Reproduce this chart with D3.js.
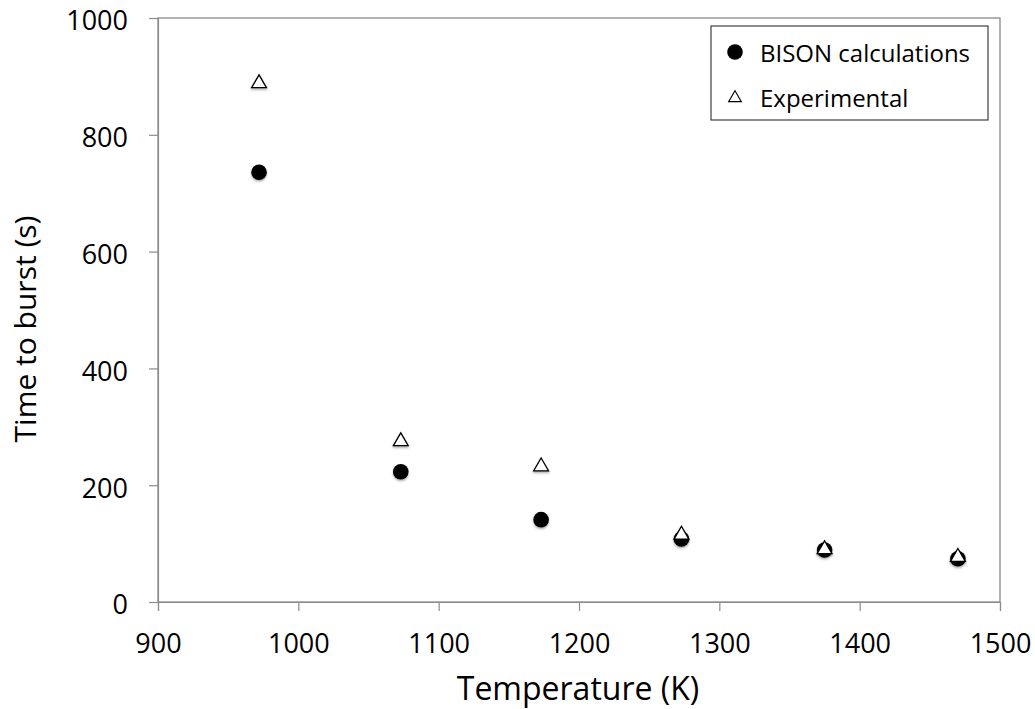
<!DOCTYPE html>
<html>
<head>
<meta charset="utf-8">
<script src="https://cdn.jsdelivr.net/npm/d3@7"></script>
<style>
  html, body { margin: 0; padding: 0; background: #fff; }
  svg { display: block; font-family: "Open Sans", "Noto Sans", sans-serif; }
</style>
</head>
<body>
<svg id="chart" width="1035" height="709"></svg>
<script>
const temperatures = [972, 1073, 1173, 1273, 1375, 1470];
const bisonTimes   = [736, 223, 141, 108, 89, 74];
const expTimes     = [888, 275, 232, 115, 90, 77];
const xTicks = [900, 1000, 1100, 1200, 1300, 1400, 1500];
const yTicks = [0, 200, 400, 600, 800, 1000];
const seriesNames = ["BISON calculations", "Experimental"];

const svg = d3.select("#chart");
const L = 158, R = 1000, T = 18, B = 602;
const x = d3.scaleLinear().domain([900, 1500]).range([L, R]);
const y = d3.scaleLinear().domain([0, 1000]).range([B, T]);

const defs = svg.append("defs");
const f = defs.append("filter").attr("id", "shadow").attr("x", "-50%").attr("y", "-50%").attr("width", "200%").attr("height", "200%");
f.append("feDropShadow").attr("dx", 0).attr("dy", 1.5).attr("stdDeviation", 1).attr("flood-color", "#000").attr("flood-opacity", 0.35);

// plot border (top/right)
svg.append("rect").attr("x", L).attr("y", T).attr("width", R - L).attr("height", B - T)
  .attr("fill", "none").attr("stroke", "#7f7f7f").attr("stroke-width", 1.2);

// x axis
const xAxis = svg.append("g").attr("transform", `translate(0,${B})`)
  .call(d3.axisBottom(x).tickValues(xTicks).tickSize(9).tickPadding(23).tickFormat(d3.format("d")));
xAxis.select(".domain").attr("stroke", "#8c8c8c").attr("stroke-width", 1.2);
xAxis.selectAll(".tick line").attr("stroke", "#8c8c8c").attr("stroke-width", 1.2);
xAxis.selectAll("text").attr("font-size", 27).attr("fill", "#000").attr("font-family", "Open Sans, sans-serif");

// y axis
const yAxis = svg.append("g").attr("transform", `translate(${L},0)`)
  .call(d3.axisLeft(y).tickValues(yTicks).tickSize(9).tickPadding(21).tickFormat(d3.format("d")));
yAxis.select(".domain").attr("stroke", "#8c8c8c").attr("stroke-width", 1.2);
yAxis.selectAll(".tick line").attr("stroke", "#8c8c8c").attr("stroke-width", 1.2);
yAxis.selectAll("text").attr("font-size", 27).attr("dy", "0.44em").attr("fill", "#000").attr("font-family", "Open Sans, sans-serif");

// axis titles
svg.append("text").attr("x", 578).attr("y", 700).attr("text-anchor", "middle")
  .attr("font-size", 32).attr("fill", "#000").text("Temperature (K)");
svg.append("text").attr("transform", `translate(36,329) rotate(-90)`)
  .attr("text-anchor", "middle").attr("font-size", 30).attr("fill", "#000").text("Time to burst (s)");

const tri = d3.symbol().type(d3.symbolTriangle).size(95);

// BISON circles
svg.append("g").selectAll("circle").data(temperatures).join("circle")
  .attr("cx", d => x(d)).attr("cy", (d, i) => y(bisonTimes[i])).attr("r", 7.8)
  .attr("fill", "#000").attr("filter", "url(#shadow)");

// Experimental triangles
svg.append("g").selectAll("path").data(temperatures).join("path")
  .attr("d", tri)
  .attr("transform", (d, i) => `translate(${x(d)},${y(expTimes[i])})`)
  .attr("fill", "#fff").attr("stroke", "#000").attr("stroke-width", 1.3).attr("filter", "url(#shadow)");

// legend
const lg = svg.append("g");
lg.append("rect").attr("x", 711).attr("y", 26).attr("width", 277).attr("height", 94)
  .attr("fill", "#fff").attr("stroke", "#404040").attr("stroke-width", 1.2);
lg.append("circle").attr("cx", 735).attr("cy", 52).attr("r", 7.8).attr("fill", "#000");
lg.append("path").attr("d", d3.symbol().type(d3.symbolTriangle).size(70)).attr("transform", "translate(735,98)")
  .attr("fill", "#fff").attr("stroke", "#000").attr("stroke-width", 1.1);
lg.append("text").attr("x", 760).attr("y", 62).attr("font-size", 24).attr("fill", "#000").text(seriesNames[0]);
lg.append("text").attr("x", 760).attr("y", 107).attr("font-size", 24).attr("fill", "#000").text(seriesNames[1]);
</script>
</body>
</html>
